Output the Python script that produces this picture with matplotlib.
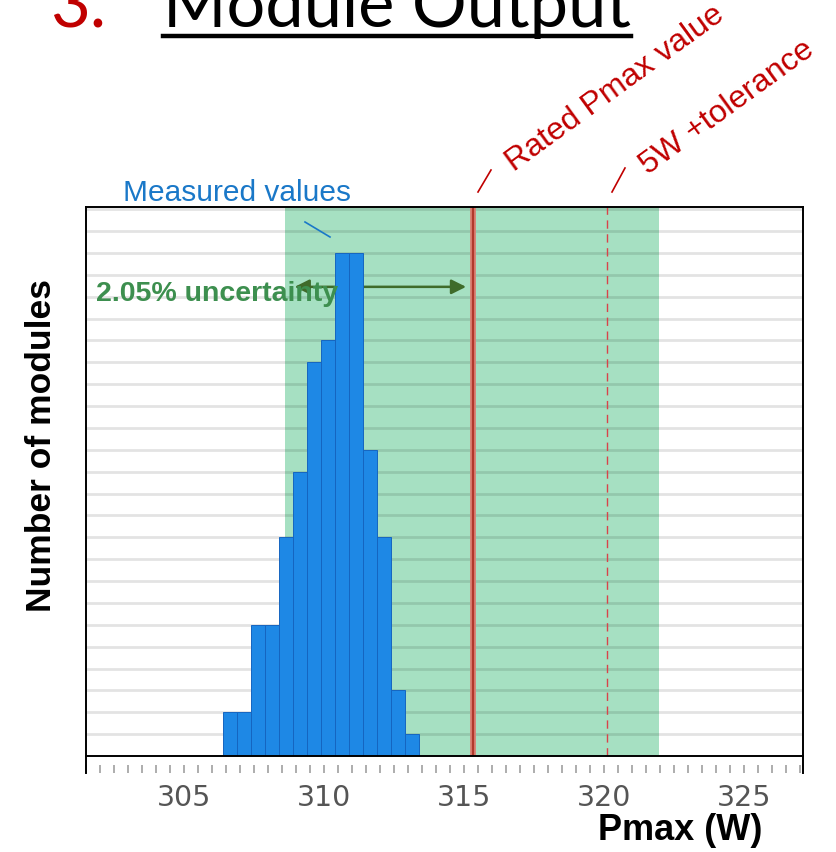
import matplotlib
matplotlib.use("Agg")
import matplotlib.pyplot as plt
from matplotlib.ticker import MultipleLocator, NullFormatter
from matplotlib.lines import Line2D

# ---- data ----
bin_left = [306.4, 306.9, 307.4, 307.9, 308.4, 308.9, 309.4,
            309.9, 310.4, 310.9, 311.4, 311.9, 312.4, 312.9]
counts = [2, 2, 6, 6, 10, 13, 18, 19, 23, 23, 14, 10, 3, 1]
bin_width = 0.5
rated_pmax = 315.3
tolerance_pmax = 320.1
uncert_band = [308.6, 321.95]
arrow_span = [308.95, 315.07]
arrow_y = 21.45
x_ticks = [305, 310, 315, 320, 325]
x_limits = [301.5, 327.1]
y_limits = [0, 25.1]

W, H = 836, 852
fig = plt.figure(figsize=(W / 100, H / 100), dpi=100)

def fx(px):
    return px / W

def fy(py):
    return 1 - py / H

ax = fig.add_axes([fx(86), fy(756), fx(803) - fx(86), fy(207) - fy(756)])
ax.set_xlim(*x_limits)
ax.set_ylim(*y_limits)

# horizontal grid
for yv in range(1, 26):
    ax.axhline(yv, color="black", alpha=0.11, lw=2.0, zorder=2)

# uncertainty band
ax.axvspan(uncert_band[0], uncert_band[1], color="#a6e0c2", zorder=1, lw=0)

# arrow (behind bars)
ax.annotate("", xy=(arrow_span[1], arrow_y), xytext=(arrow_span[0], arrow_y),
            arrowprops=dict(arrowstyle="<|-|>", color="#3f6b2a", lw=1.8,
                            mutation_scale=22, shrinkA=0, shrinkB=0),
            zorder=3)

# bars
ax.bar(bin_left, counts, width=bin_width, align="edge", color="#1e88e5",
       edgecolor="#1565c0", linewidth=0.7, zorder=4)

# rated line
ax.axvline(rated_pmax, color="#dc7f72", lw=4.2, zorder=5)
ax.axvline(rated_pmax, color="#b0392c", lw=1.6, zorder=6)
# tolerance line
ax.axvline(tolerance_pmax, color="#d9434a", lw=1.0, ls=(0, (6, 4)), zorder=5)

for s in ["left", "right", "top", "bottom"]:
    ax.spines[s].set_color("black")
    ax.spines[s].set_linewidth(1.4)
    ax.spines[s].set_zorder(7)

ax.set_yticks([])
ax.set_xticks(x_ticks)
ax.set_xticklabels([str(t) for t in x_ticks])
ax.tick_params(axis="x", length=0, pad=20, labelsize=20.5, labelcolor="#555555")
for lbl in ax.get_xticklabels():
    lbl.set_family("DejaVu Sans")

# minor ticks on a slightly offset secondary axis
sec = ax.secondary_xaxis(-0.016)
sec.spines["bottom"].set_visible(False)
sec.xaxis.set_major_locator(MultipleLocator(0.5))
sec.xaxis.set_major_formatter(NullFormatter())
sec.tick_params(axis="x", length=6, width=1.2, color="#a0a0a0", direction="out")

# extended spines at ends
for px in (86, 803):
    fig.add_artist(Line2D([fx(px), fx(px)], [fy(756), fy(773)],
                          transform=fig.transFigure, color="black", lw=1.4))

# axis labels
fig.text(fx(680), fy(830), "Pmax (W)", ha="center", va="center",
         fontsize=26, fontweight="bold", family="Liberation Sans")
fig.text(fx(42), fy(446), "Number of modules", ha="center", va="center",
         rotation=90, fontsize=25.5, fontweight="bold", family="Liberation Sans")

# annotations
fig.text(fx(237), fy(193), "Measured values", ha="center", va="center",
         fontsize=21.5, color="#1a78c8", family="Liberation Sans")
fig.add_artist(Line2D([fx(305), fx(330)], [fy(222), fy(237)],
                      transform=fig.transFigure, color="#1a78c8", lw=1.2))

fig.text(fx(217), fy(294), "2.05% uncertainty", ha="center", va="center",
         fontsize=20.5, fontweight="bold", color="#3d8f4f",
         family="Liberation Sans", zorder=10)

red = "#c00000"
fig.text(fx(514), fy(172), "Rated Pmax value", ha="left", va="baseline",
         rotation=36, rotation_mode="anchor", fontsize=23, color=red,
         family="Liberation Sans")
fig.text(fx(648), fy(175), "5W +tolerance", ha="left", va="baseline",
         rotation=36, rotation_mode="anchor", fontsize=23, color=red,
         family="Liberation Sans")
fig.add_artist(Line2D([fx(478), fx(491)], [fy(192), fy(170)],
                      transform=fig.transFigure, color=red, lw=1.2))
fig.add_artist(Line2D([fx(612), fx(625)], [fy(192), fy(168)],
                      transform=fig.transFigure, color=red, lw=1.2))

# title
title_font = "Lato"
t1 = fig.text(fx(50), fy(27), "3.", ha="left", va="baseline",
              fontsize=50, color="#c00000", family=title_font)
t2 = fig.text(fx(163), fy(27), "Module Output", ha="left", va="baseline",
              fontsize=50, color="black", family=title_font)
fig.canvas.draw()
r = fig.canvas.get_renderer()
w = t2.get_window_extent(r).width
size = 50 * 467 / w
t1.set_fontsize(size)
t2.set_fontsize(size)
fig.canvas.draw()
bb = t2.get_window_extent(r)
fig.add_artist(Line2D([fx(163), fx(163) + bb.width / W], [fy(36), fy(36)],
                      transform=fig.transFigure, color="black", lw=3.2))

fig.savefig("out.png", dpi=100)
